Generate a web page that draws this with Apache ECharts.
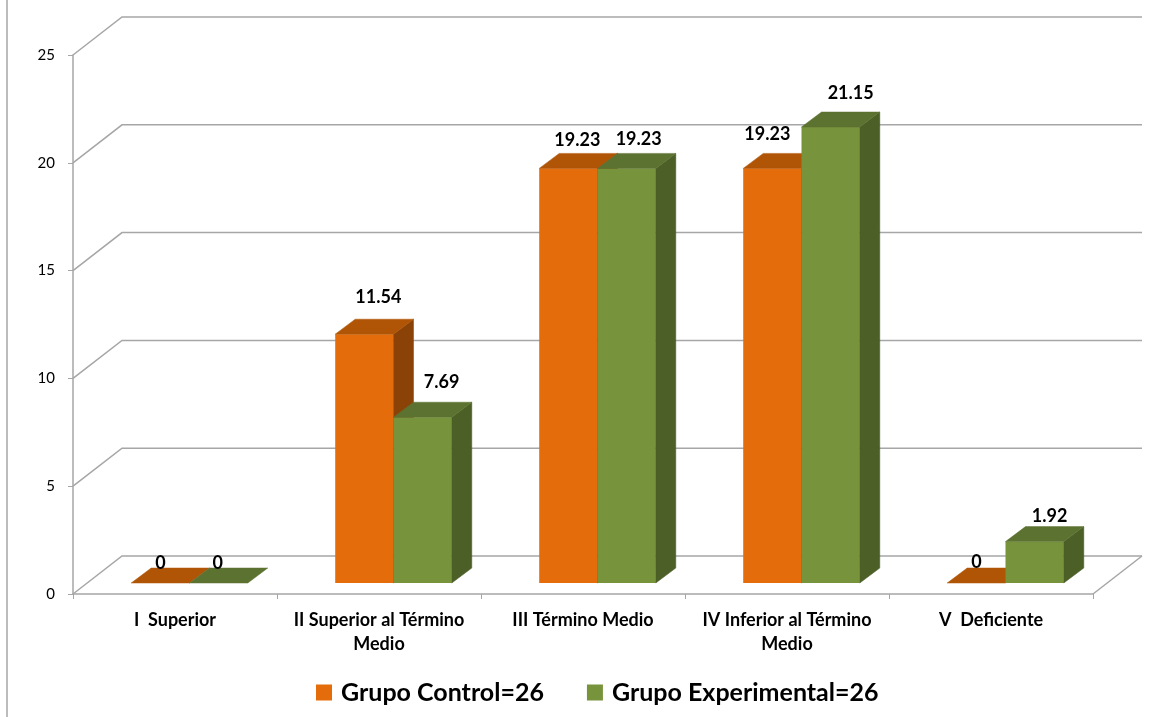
<!DOCTYPE html>
<html>
<head>
<meta charset="utf-8">
<style>html,body{margin:0;padding:0;background:#fff}#chart{width:1169px;height:717px}</style>
<script src="https://cdn.jsdelivr.net/npm/echarts@6/dist/echarts.min.js"></script>
</head>
<body>
<div id="chart"></div>
<script>
// Chart data
const categories = ['I  Superior', 'II Superior al Término\nMedio', 'III Término Medio', 'IV Inferior al Término\nMedio', 'V  Deficiente'];
const grupoControl = [0, 11.54, 19.23, 19.23, 0];
const grupoExperimental = [0, 7.69, 19.23, 21.15, 1.92];
const yTicks = [0, 5, 10, 15, 20, 25];

// Pixel offsets of each value label from the centre of its bar's front top edge
const controlLabelShift = [[0, -20], [14, -37], [9, -28], [-5, -34], [0, -21]];
const experimentalLabelShift = [[-1, -20], [19, -35], [12, -29], [20, -34], [15, -25]];

// Oblique projection used for the pseudo 3D look
const WALL_DX = 49, WALL_DY = -38;
const BAR_DX = 20, BAR_DY = -15;
const FLOOR_DX = 14.5, FLOOR_DY = -11;
const GAP_RATIO = 1.5;
const FONT = 'Lato, Carlito, sans-serif';
const LINE = '#a6a6a6';

const palette = {
  control: { front: '#e46c0a', top: '#b05406', side: '#8a4206' },
  experimental: { front: '#77933c', top: '#5c7230', side: '#4c5f27' }
};

function poly(points, fill, z2) {
  return { type: 'polygon', shape: { points }, style: { fill, stroke: fill, lineWidth: 0.5 }, z2 };
}

// Back wall and floor: one record per y tick
function renderWall(params, api) {
  const value = api.value(0);
  const cs = params.coordSys;
  const y = api.coord([0, value])[1];
  const x0 = cs.x, x1 = cs.x + cs.width;
  const children = [{
    type: 'polyline',
    shape: { points: [[x0, y], [x0 + WALL_DX, y + WALL_DY], [x1 + WALL_DX, y + WALL_DY]] },
    style: { fill: 'none', stroke: LINE, lineWidth: 1.5 }
  }];
  if (value === 0) {
    children.push({
      type: 'line',
      shape: { x1: x1, y1: y, x2: x1 + WALL_DX, y2: y + WALL_DY },
      style: { stroke: LINE, lineWidth: 1.5 }
    });
  }
  return { type: 'group', children };
}

function barRenderer(offsetIndex, colors, labelShift) {
  return function (params, api) {
    const idx = api.value(0);
    const v = api.value(1);
    const base = api.coord([idx, 0]);
    const top = api.coord([idx, v]);
    const band = api.size([1, 0])[0];
    const w = band / (2 + GAP_RATIO);
    const left = base[0] + offsetIndex * w + FLOOR_DX;
    const right = left + w;
    const yBase = base[1] + FLOOR_DY;
    const yTop = top[1] + FLOOR_DY;
    const shift = labelShift[idx];
    const children = [];
    if (v > 0) {
      children.push({
        type: 'rect',
        shape: { x: left, y: yTop, width: w, height: yBase - yTop },
        style: { fill: colors.front }
      });
      children.push(poly([[right, yTop], [right + BAR_DX, yTop + BAR_DY], [right + BAR_DX, yBase + BAR_DY], [right, yBase]], colors.side));
    }
    children.push(poly([[left, yTop], [left + BAR_DX, yTop + BAR_DY], [right + BAR_DX, yTop + BAR_DY], [right, yTop]], colors.top));
    children.push({
      type: 'text',
      z2: 10,
      style: {
        x: left + w / 2 + shift[0],
        y: yTop + shift[1],
        text: String(v),
        fill: '#000',
        font: 'bold 18px ' + FONT,
        align: 'center',
        verticalAlign: 'middle'
      }
    });
    return { type: 'group', children };
  };
}

const chart = echarts.init(document.getElementById('chart'), null, { renderer: 'canvas' });
chart.setOption({
  animation: false,
  backgroundColor: '#ffffff',
  grid: { left: 73, right: 76, top: 55, bottom: 123 },
  graphic: [{
    type: 'line',
    shape: { x1: 7, y1: 0, x2: 7, y2: 717 },
    style: { stroke: LINE, lineWidth: 1.5 }
  }],
  legend: {
    data: ['Grupo Control=26', 'Grupo Experimental=26'],
    left: 311,
    top: 675,
    icon: 'rect',
    itemWidth: 16,
    itemHeight: 16,
    itemGap: 43,
    textStyle: { fontFamily: FONT, fontWeight: 'bold', fontSize: 25, color: '#000', padding: [0, 0, 0, 4] }
  },
  xAxis: {
    type: 'category',
    data: categories,
    axisLine: { lineStyle: { color: LINE, width: 1.5 } },
    axisTick: { show: true, length: 5, alignWithLabel: false, lineStyle: { color: LINE } },
    axisLabel: { interval: 0, margin: 14, lineHeight: 24, fontFamily: FONT, fontWeight: 'bold', fontSize: 18, color: '#000' },
    splitLine: { show: false }
  },
  yAxis: {
    type: 'value',
    min: 0,
    max: 25,
    interval: 5,
    axisLine: { show: true, lineStyle: { color: LINE, width: 1.5 } },
    axisTick: { show: true, length: 5, lineStyle: { color: LINE } },
    axisLabel: { margin: 18, fontFamily: FONT, fontSize: 15, color: '#000' },
    splitLine: { show: false }
  },
  series: [
    {
      type: 'custom',
      name: 'wall',
      renderItem: renderWall,
      data: yTicks.map(t => [t]),
      encode: { y: 0 },
      silent: true,
      clip: false
    },
    {
      type: 'custom',
      name: 'Grupo Control=26',
      renderItem: barRenderer(-1, palette.control, controlLabelShift),
      data: grupoControl.map((v, i) => [i, v]),
      encode: { x: 0, y: 1 },
      itemStyle: { color: palette.control.front },
      clip: false
    },
    {
      type: 'custom',
      name: 'Grupo Experimental=26',
      renderItem: barRenderer(0, palette.experimental, experimentalLabelShift),
      data: grupoExperimental.map((v, i) => [i, v]),
      encode: { x: 0, y: 1 },
      itemStyle: { color: palette.experimental.front },
      clip: false
    }
  ]
});
</script>
</body>
</html>
